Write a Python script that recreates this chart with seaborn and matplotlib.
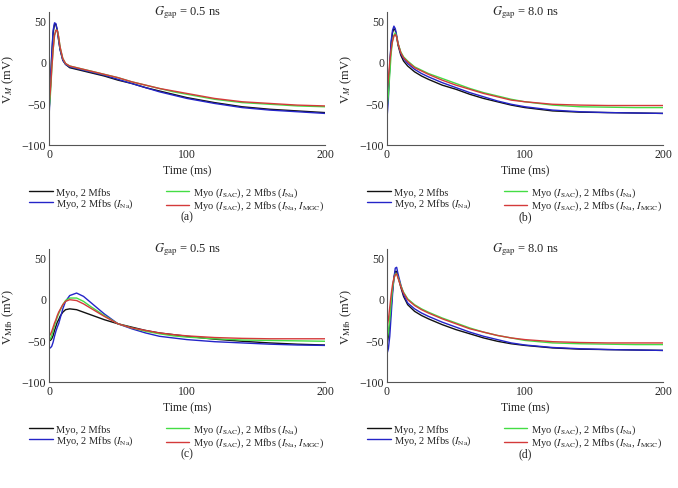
import numpy as np
import pandas as pd
import matplotlib
matplotlib.use('Agg')
import matplotlib.pyplot as plt
import seaborn as sns

sns.set_style("white")
plt.rcParams['font.family'] = ['Liberation Serif', 'DejaVu Serif']
plt.rcParams['mathtext.fontset'] = 'stix'

# time grid (ms)
t = [0, 1, 2, 3, 4, 5, 6, 7, 8, 10, 12, 15, 20, 25, 30, 40, 50, 60, 70, 80, 90, 100, 120, 140, 160, 180, 200]

# panel (a): V_M, Ggap = 0.5 ns
a_black = [-62, -30, 8, 35, 45, 45, 38, 26, 15, 2, -3, -7, -9, -11, -13, -17, -22, -26, -31, -35, -39, -43, -49, -54, -57, -59, -61]
a_blue = [-68, -30, 10, 38, 47, 46, 38, 26, 15, 2, -3, -6, -8, -10, -12, -16, -21, -26, -31, -36, -40, -44, -50, -55, -58, -60, -62]
a_green = [-57, -40, -10, 15, 32, 38, 38, 30, 18, 4, -2, -5, -7, -9, -11, -15, -19, -24, -28, -32, -36, -39, -45, -49, -51, -53, -54]
a_red = [-50, -35, -8, 15, 32, 38, 38, 30, 18, 4, -2, -5, -7, -9, -11, -15, -19, -24, -28, -32, -35, -38, -44, -48, -50, -52, -53]

# panel (b): V_M, Ggap = 8.0 ns
b_black = [-50, -35, -5, 22, 35, 40, 38, 30, 20, 8, 1, -5, -12, -17, -21, -28, -33, -39, -44, -48, -52, -55, -59, -60.5, -61, -61.5, -62]
b_blue = [-68, -45, -5, 25, 38, 43, 40, 32, 22, 10, 4, -2, -9, -14, -18, -25, -31, -37, -42, -47, -51, -54, -58, -60, -61, -61.5, -62]
b_green = [-55, -40, -15, 10, 25, 32, 35, 30, 22, 12, 6, 1, -6, -10, -14, -20, -26, -32, -37, -41, -45, -48, -52, -54, -54.5, -55, -55]
b_red = [-35, -20, 0, 15, 25, 31, 33, 30, 22, 11, 5, 0, -7, -11, -15, -22, -28, -33, -38, -42, -46, -48, -51, -52, -52.5, -52.5, -52.5]

# panel (c): V_Mfb, Ggap = 0.5 ns
c_black = [-50, -50, -48, -44, -38, -33, -28, -25, -21, -16, -13, -12, -13, -16, -19, -25, -30, -34, -38, -41, -43, -45, -48.5, -51, -53, -54.5, -55.5]
c_blue = [-59, -59, -57, -52, -45, -39, -34, -30, -24, -12, -3, 4, 7, 3, -4, -18, -30, -36, -41, -45, -47, -49, -51.5, -53, -54.5, -55.5, -56]
c_green = [-50, -48, -44, -38, -32, -27, -22, -18, -14, -7, -2, 1, 1, -3, -9, -20, -30, -35, -39, -42, -44.5, -46, -48, -49.5, -50, -50.5, -51]
c_red = [-45, -43, -39, -34, -29, -25, -20, -16, -13, -7, -3, -1, -2, -6, -11, -21, -30, -35, -38, -41, -43, -44.5, -46.5, -47.5, -48, -48, -48]

# panel (d): V_Mfb, Ggap = 8.0 ns
d_black = [-55, -45, -30, -10, 10, 25, 33, 33, 27, 14, 3, -7, -15, -20, -24, -31, -37, -42, -47, -51, -54, -56, -59, -60.5, -61, -61.5, -62]
d_blue = [-66, -60, -45, -20, 5, 25, 37, 38, 30, 17, 5, -5, -12, -17, -21, -28, -34, -40, -45, -49, -53, -55.5, -58.5, -60, -61, -61.5, -62]
d_green = [-50, -40, -25, -5, 12, 24, 30, 30, 26, 16, 8, 0, -7, -12, -16, -23, -29, -35, -40, -44, -47, -50, -53, -54, -54.5, -55, -55]
d_red = [-35, -25, -10, 5, 17, 25, 29, 30, 25, 15, 7, -1, -8, -13, -17, -24, -30, -36, -40, -44, -47, -49, -51.5, -52.5, -53, -53, -53]

labels = ['Myo, 2 Mfbs',
          r'Myo, 2 Mfbs ($I_{\mathrm{Na}}$)',
          r'Myo ($I_{\mathrm{SAC}}$), 2 Mfbs ($I_{\mathrm{Na}}$)',
          r'Myo ($I_{\mathrm{SAC}}$), 2 Mfbs ($I_{\mathrm{Na}}$, $I_{\mathrm{MGC}}$)']
colors = ['#111111', '#2424c8', '#44dd44', '#d43a3a']

panels = [
    ([a_black, a_blue, a_green, a_red], r'$G_{\mathrm{gap}}$ = 0.5 ns', r'V$_{M}$ (mV)', '(a)'),
    ([b_black, b_blue, b_green, b_red], r'$G_{\mathrm{gap}}$ = 8.0 ns', r'V$_{M}$ (mV)', '(b)'),
    ([c_black, c_blue, c_green, c_red], r'$G_{\mathrm{gap}}$ = 0.5 ns', r'V$_{\mathrm{Mfb}}$ (mV)', '(c)'),
    ([d_black, d_blue, d_green, d_red], r'$G_{\mathrm{gap}}$ = 8.0 ns', r'V$_{\mathrm{Mfb}}$ (mV)', '(d)'),
]

W, H = 678, 489
fig = plt.figure(figsize=(W / 100, H / 100), dpi=100)
# axes boxes in pixels: left, top, width, height
boxes = [(49, 13, 276, 133), (387, 13, 276, 133), (49, 250, 276, 133), (387, 250, 276, 133)]

for (series, title, ylab, tag), (l, tp, w, h) in zip(panels, boxes):
    ax = fig.add_axes([l / W, 1 - (tp + h) / H, w / W, h / H])
    for vals, col, lab in zip(series, colors, labels):
        sns.lineplot(x=t, y=vals, color=col, lw=1.0, label=lab, ax=ax)
    ax.set_xlim(0, 200)
    ax.set_ylim(-100, 60)
    ax.set_xticks([0, 100, 200])
    ax.set_yticks([-100, -50, 0, 50])
    ax.tick_params(labelsize=8.5, direction='in', length=2, width=0.6, pad=2)
    for s in ['top', 'right']:
        ax.spines[s].set_visible(False)
    for s in ['left', 'bottom']:
        ax.spines[s].set_linewidth(0.8)
        ax.spines[s].set_color('#555555')
    ax.set_xlabel('Time (ms)', fontsize=8.5, labelpad=3)
    ax.set_ylabel(ylab, fontsize=9, labelpad=4)
    ax.text(0.5, 1.0, title, transform=ax.transAxes, ha='center', va='center', fontsize=9)
    ax.legend(loc='upper center', bbox_to_anchor=(0.462, -0.265), ncol=2, frameon=False,
              fontsize=7.5, handlelength=2.3, handletextpad=0.35, columnspacing=3.0,
              labelspacing=0.0, borderpad=0)
    ax.text(0.5, -0.535, tag, transform=ax.transAxes, ha='center', va='center', fontsize=8.5)

fig.savefig('out.png', dpi=100)
